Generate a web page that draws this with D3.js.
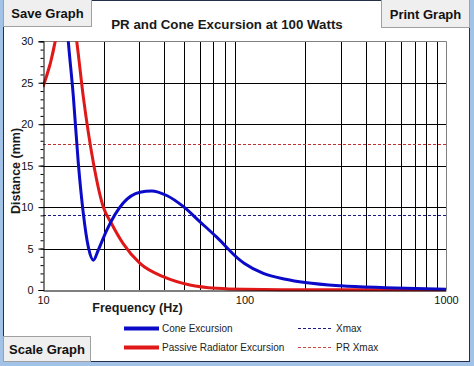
<!DOCTYPE html>
<html>
<head>
<meta charset="utf-8">
<script src="https://cdn.jsdelivr.net/npm/d3@7"></script>
<style>
  body { margin: 0; background: #a3c2e8; }
  svg { display: block; font-family: "Liberation Sans", Arial, sans-serif; }
</style>
</head>
<body>
<div id="chart"></div>
<script>
// Data
const coneFreq = [10, 12, 13.35, 14.15, 14.97, 15.85, 16.78, 17.8, 18.8, 20.7, 25, 30.3, 34.6, 41.1, 49.8, 60, 72.6, 95, 100, 124, 160, 200, 300, 500, 1000];
const coneMm = [80, 45, 30, 23.3, 15.3, 9.25, 5.2, 3.6, 4.8, 7.2, 10.5, 11.8, 11.95, 11.4, 10.05, 8.25, 6.4, 3.6, 3.2, 2.0, 1.3, 0.9, 0.5, 0.28, 0.1];
const prFreq = [10, 11.5, 12.5, 13.5, 14.7, 15.85, 17.8, 19.9, 21.9, 25, 30.3, 39.5, 53.6, 72.6, 100, 200, 1000];
const prMm = [24.5, 30, 36, 36, 30, 23.3, 15.3, 10.05, 8.0, 5.6, 3.2, 1.6, 0.6, 0.2, 0.08, 0.03, 0.02];
const xmax = 9;
const prXmax = 17.6;
const gridFreqs = [20, 30, 40, 50, 60, 70, 80, 90, 200, 300, 400, 500, 600, 700, 800, 900];
const xTicks = [10, 100, 1000];
const yTicks = [0, 5, 10, 15, 20, 25, 30];
const legendItems = [
  { label: "Cone Excursion", color: "#0a0ac8", dashed: false },
  { label: "Passive Radiator Excursion", color: "#e01818", dashed: false },
  { label: "Xmax", color: "#1a1a80", dashed: true },
  { label: "PR Xmax", color: "#c84848", dashed: true },
];

// Dimensions
const dimensions = { width: 474, height: 366, left: 43, right: 446, top: 41.3, bottom: 290 };

const svg = d3
  .select("#chart")
  .append("svg")
  .attr("width", dimensions.width)
  .attr("height", dimensions.height);

// window frame
svg.append("rect")
  .attr("x", 3.5).attr("y", 0.5)
  .attr("width", 466).attr("height", 361)
  .attr("fill", "#fff")
  .attr("stroke", "#243048");

// Scales
const xScale = d3.scaleLog().domain([10, 1000]).range([dimensions.left, dimensions.right]);
const yScale = d3.scaleLinear().domain([0, 30]).range([dimensions.bottom, dimensions.top]);

// grid
const grid = svg.append("g").attr("stroke", "#000").attr("stroke-width", 1);
grid.selectAll(".vg")
  .data(gridFreqs)
  .join("line")
  .attr("x1", (d) => Math.round(xScale(d)) + 0.5)
  .attr("x2", (d) => Math.round(xScale(d)) + 0.5)
  .attr("y1", dimensions.top)
  .attr("y2", dimensions.bottom);
grid.selectAll(".hg")
  .data([5, 10, 15, 20, 25])
  .join("line")
  .attr("x1", dimensions.left)
  .attr("x2", dimensions.right)
  .attr("y1", (d) => Math.round(yScale(d)) + 0.5)
  .attr("y2", (d) => Math.round(yScale(d)) + 0.5);

// top / right border
svg.append("path")
  .attr("d", `M${dimensions.left},${Math.round(dimensions.top) + 0.5}H${dimensions.right + 0.5}V${dimensions.bottom}`)
  .attr("fill", "none")
  .attr("stroke", "#808080");

// xmax lines
const limits = [
  { v: xmax, color: "#1a1a80" },
  { v: prXmax, color: "#c03030" },
];
svg.selectAll(".lim")
  .data(limits)
  .join("line")
  .attr("x1", dimensions.left)
  .attr("x2", dimensions.right)
  .attr("y1", (d) => Math.round(yScale(d.v)) + 0.5)
  .attr("y2", (d) => Math.round(yScale(d.v)) + 0.5)
  .attr("stroke", (d) => d.color)
  .attr("stroke-dasharray", "3,2");

// curves
svg.append("clipPath").attr("id", "clip")
  .append("rect")
  .attr("x", dimensions.left)
  .attr("y", dimensions.top)
  .attr("width", dimensions.right - dimensions.left + 1)
  .attr("height", dimensions.bottom - dimensions.top + 2);

const line = d3.line()
  .x((d) => xScale(d[0]))
  .y((d) => yScale(d[1]))
  .curve(d3.curveMonotoneX);

const curves = svg.append("g").attr("clip-path", "url(#clip)");
curves.append("path")
  .attr("d", line(d3.zip(prFreq, prMm)))
  .attr("fill", "none")
  .attr("stroke", "#e01818")
  .attr("stroke-width", 3);
curves.append("path")
  .attr("d", line(d3.zip(coneFreq, coneMm)))
  .attr("fill", "none")
  .attr("stroke", "#0a0ac8")
  .attr("stroke-width", 3);

// Axes
const yAxis = d3.axisLeft(yScale).tickValues(yTicks).tickSize(5).tickPadding(5);
const yAxisG = svg.append("g")
  .attr("transform", `translate(${dimensions.left + 0.5}, 0)`)
  .call(yAxis);
const yMinor = d3.axisLeft(yScale).tickValues(d3.range(0, 31, 1)).tickSize(3).tickFormat("");
svg.append("g")
  .attr("transform", `translate(${dimensions.left + 0.5}, 0)`)
  .call(yMinor)
  .call((g) => g.select(".domain").remove());

const xAxis = d3.axisBottom(xScale).tickValues(xTicks).tickSize(0).tickPadding(6).tickFormat(d3.format("d"));
const xAxisG = svg.append("g")
  .attr("transform", `translate(0, ${dimensions.bottom + 0.5})`)
  .call(xAxis);

[yAxisG, xAxisG].forEach((g) => {
  g.selectAll("text").attr("font-size", 11).attr("font-family", "Liberation Sans, Arial").attr("fill", "#111");
  g.select(".domain").attr("stroke", "#000");
});

// Titles
svg.append("text")
  .attr("x", 227).attr("y", 29)
  .attr("text-anchor", "middle")
  .attr("font-size", 13.3).attr("font-weight", "bold")
  .attr("fill", "#1a1a1a")
  .text("PR and Cone Excursion at 100 Watts");

svg.append("text")
  .attr("transform", "translate(20, 171) rotate(-90)")
  .attr("text-anchor", "middle")
  .attr("font-size", 12.5).attr("font-weight", "bold")
  .attr("fill", "#1a1a1a")
  .text("Distance (mm)");

svg.append("text")
  .attr("x", 137.5).attr("y", 312)
  .attr("text-anchor", "middle")
  .attr("font-size", 12.5).attr("font-weight", "bold")
  .attr("fill", "#1a1a1a")
  .text("Frequency (Hz)");

// Legend
const legend = svg.append("g").attr("font-size", 10).attr("fill", "#222");
legendItems.forEach((d, i) => {
  const col = i < 2 ? 0 : 1;
  const row = i % 2;
  const lx = col === 0 ? 124 : 298;
  const ly = row === 0 ? 328.5 : 347.5;
  legend.append("line")
    .attr("x1", lx).attr("x2", col === 0 ? 159 : 333)
    .attr("y1", ly).attr("y2", ly)
    .attr("stroke", d.color)
    .attr("stroke-width", d.dashed ? 1 : 4)
    .attr("stroke-dasharray", d.dashed ? "3,2" : null);
  legend.append("text")
    .attr("x", col === 0 ? 162 : 336)
    .attr("y", ly + 3.5)
    .text(d.label);
});

// Buttons
const buttons = [
  { label: "Save Graph", x: 3.5, y: -0.5, w: 88, h: 27 },
  { label: "Print Graph", x: 381.5, y: -0.5, w: 88, h: 28 },
  { label: "Scale Graph", x: 3.5, y: 336.5, w: 87, h: 25 },
];
const btn = svg.selectAll(".btn").data(buttons).join("g");
btn.append("rect")
  .attr("x", (d) => d.x).attr("y", (d) => d.y)
  .attr("width", (d) => d.w).attr("height", (d) => d.h)
  .attr("fill", "#efefef")
  .attr("stroke", "#a0a0a0");
btn.append("text")
  .attr("x", (d) => d.x + d.w / 2)
  .attr("y", (d) => d.y + d.h / 2 + 5)
  .attr("text-anchor", "middle")
  .attr("font-size", 13).attr("font-weight", "bold")
  .attr("fill", "#111")
  .text((d) => d.label);
</script>
</body>
</html>
